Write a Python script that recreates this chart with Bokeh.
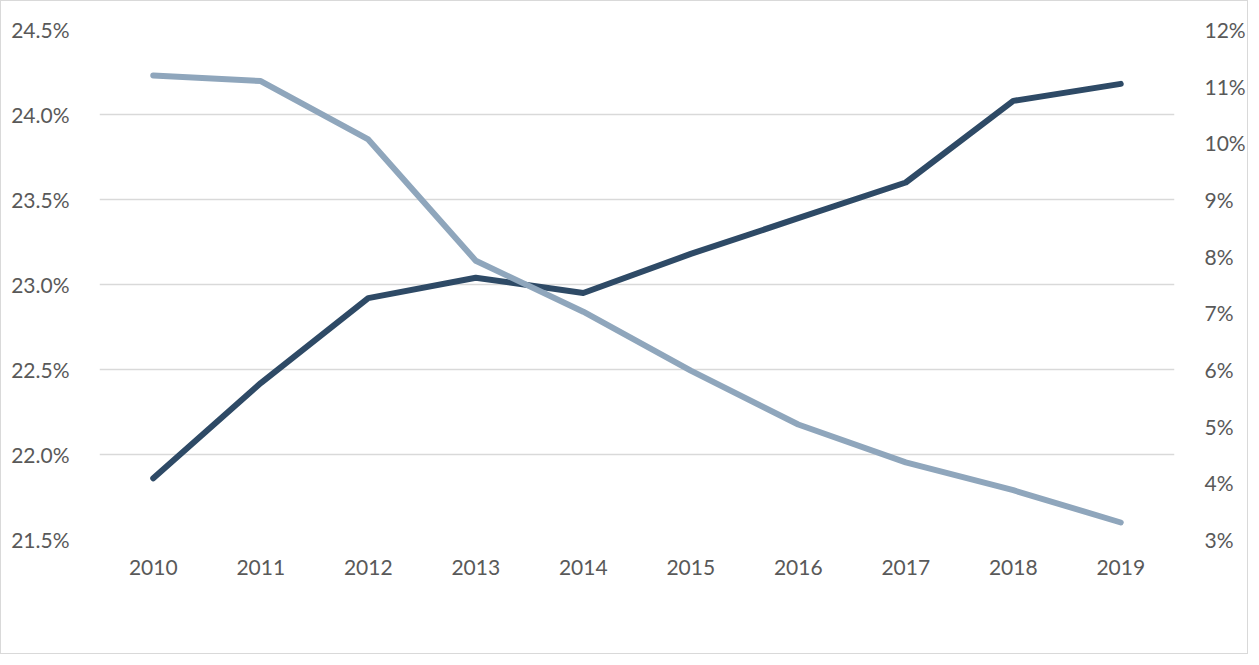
from bokeh.plotting import figure
from bokeh.models import (Range1d, LinearAxis, FixedTicker, PrintfTickFormatter,
                          Legend, LegendItem, ColumnDataSource, FactorRange)
from bokeh.embed import file_html
from bokeh.resources import INLINE

years = ["2010", "2011", "2012", "2013", "2014", "2015", "2016", "2017", "2018", "2019"]
steuerquote = [21.86, 22.42, 22.92, 23.04, 22.95, 23.18, 23.39, 23.60, 24.08, 24.18]
zins_steuer_quote = [11.19, 11.09, 10.06, 7.92, 7.02, 5.98, 5.03, 4.36, 3.87, 3.30]
left_ticks = [21.5, 22.0, 22.5, 23.0, 23.5, 24.0, 24.5]
right_ticks = [3, 4, 5, 6, 7, 8, 9, 10, 11, 12]
label_left = "Steuerquote (linke Skala)"
label_right = "Zins-Steuer-Quote (rechte Skala)"

DARK = "#2E4A66"
LIGHT = "#8FA6BC"
TEXT = "#595959"
GRID = "#d9d9d9"
FONT = "Lato"

src = ColumnDataSource(dict(year=years, s=steuerquote, z=zins_steuer_quote))

p = figure(x_range=FactorRange(factors=years), y_range=Range1d(21.5, 24.5),
           width=1248, height=654, output_backend="svg", toolbar_location=None)
p.styles = {"border": "1px solid #d9d9d9"}
p.extra_y_ranges = {"right": Range1d(3, 12)}
p.min_border_left = 98
p.min_border_right = 75
p.min_border_top = 28
p.min_border_bottom = 116
p.outline_line_color = None
p.background_fill_color = "white"
p.border_fill_color = "white"

r1 = p.line("year", "s", source=src, line_color=DARK, line_width=6, line_cap="round", line_join="round")
r2 = p.line("year", "z", source=src, line_color=LIGHT, line_width=6, line_cap="round", line_join="round",
            y_range_name="right")

ax_r = LinearAxis(y_range_name="right")
p.add_layout(ax_r, "right")

for ax in [p.yaxis[0], ax_r]:
    ax.axis_line_color = None
    ax.major_tick_line_color = None
    ax.minor_tick_line_color = None
    ax.major_label_text_font = FONT
    ax.major_label_text_font_size = "21px"
    ax.major_label_text_color = TEXT
    ax.major_label_standoff = 24

p.yaxis[0].ticker = FixedTicker(ticks=left_ticks)
p.yaxis[0].formatter = PrintfTickFormatter(format="%.1f%%")
ax_r.ticker = FixedTicker(ticks=right_ticks)
ax_r.formatter = PrintfTickFormatter(format="%d%%")

xa = p.xaxis[0]
xa.axis_line_color = None
xa.major_tick_line_color = None
xa.minor_tick_line_color = None
xa.major_label_text_font = FONT
xa.major_label_text_font_size = "21px"
xa.major_label_text_color = TEXT
xa.major_label_standoff = 14

p.xgrid.visible = False
p.ygrid.ticker = FixedTicker(ticks=left_ticks)
p.ygrid.grid_line_color = GRID
p.ygrid.grid_line_width = 1.5

legend = Legend(items=[LegendItem(label=label_left, renderers=[r1]),
                       LegendItem(label=label_right, renderers=[r2])],
                orientation="horizontal", location=(159, -97),
                glyph_width=36, glyph_height=20, label_standoff=3, spacing=35,
                padding=0, margin=0, border_line_color=None, background_fill_alpha=0,
                label_text_font="Liberation Sans Narrow", label_text_font_size="18px",
                label_text_color=TEXT)
p.add_layout(legend, "center")

open("out.html", "w").write(file_html(p, INLINE))
